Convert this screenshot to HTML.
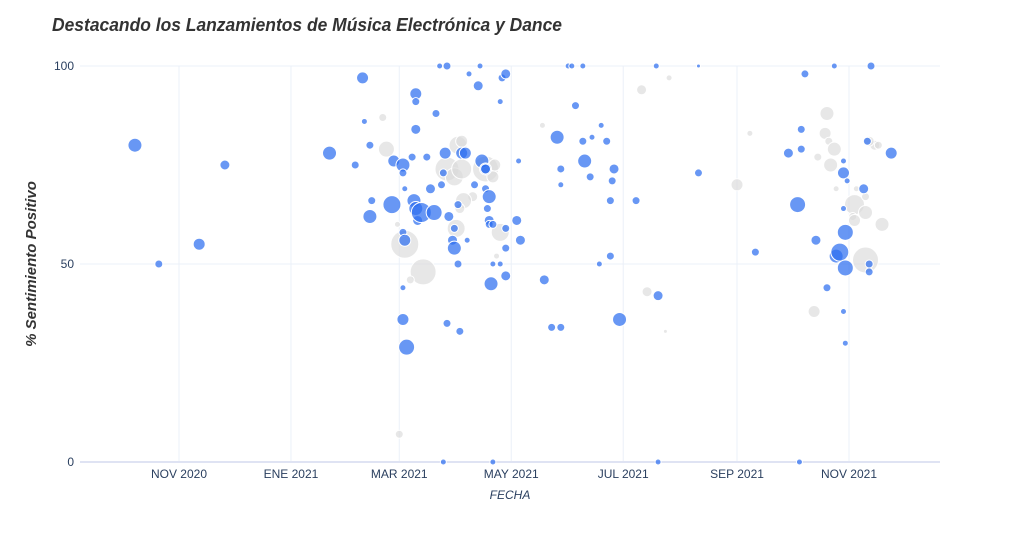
<!DOCTYPE html>
<html><head><meta charset="utf-8"><style>
body{margin:0;background:#fff;width:1024px;height:546px;overflow:hidden}
svg text{font-family:"Liberation Sans",sans-serif}
</style></head><body>
<svg id="chart" width="1024" height="546" xmlns="http://www.w3.org/2000/svg">
<text x="52" y="31" font-size="18" font-weight="bold" font-style="italic" fill="#333" textLength="510" lengthAdjust="spacingAndGlyphs">Destacando los Lanzamientos de Música Electrónica y Dance</text>
<g id="grid"></g>
<g id="marks"></g>
<text x="510" y="499" font-size="12" font-style="italic" fill="#2a3f5f" text-anchor="middle">FECHA</text>
<text transform="translate(36,264) rotate(-90)" font-size="15" font-weight="bold" font-style="italic" fill="#333" text-anchor="middle">% Sentimiento Positivo</text>
</svg>
<script>
// day offsets from 2020-11-01
const xTickDays=[0,61,120,181,242,304,365];
const xTickLabels=["NOV 2020","ENE 2021","MAR 2021","MAY 2021","JUL 2021","SEP 2021","NOV 2021"];
const yTicks=[0,50,100];
// [day, sentiment, size]
const bluePoints=[[-24,80,7],[-11,50,4],[11,55,6],[25,75,5],[82,78,7],[96,75,4],[100,97,6],[101,86,3],[104,62,7],[104,80,4],[105,66,4],[116,65,9],[117,76,6],[122,75,7],[122,73,4],[123,69,3],[122,58,4],[123,56,6],[122,44,3],[122,36,6],[124,29,8],[129,93,6],[129,91,4],[127,77,4],[129,84,5],[128,66,7],[129,64,7],[130,61,5],[132,63,10],[135,77,4],[137,69,5],[139,63,8],[140,88,4],[142,100,3],[146,100,4],[143,70,4],[144,73,4],[145,78,6],[146,35,4],[147,62,5],[149,56,5],[150,59,4],[150,54,7],[152,65,4],[152,50,4],[153,33,4],[154,78,6],[156,78,6],[157,56,3],[158,98,3],[161,70,4],[163,95,5],[164,100,3],[165,76,7],[167,74,6],[167,74,5],[167,69,4],[168,64,4],[169,67,7],[169,61,5],[169,60,4],[171,60,4],[170,45,7],[171,50,3],[175,50,3],[175,91,3],[176,97,4],[178,98,5],[178,54,4],[178,47,5],[178,59,4],[185,76,3],[184,61,5],[186,56,5],[199,46,5],[203,34,4],[206,82,7],[208,74,4],[208,70,3],[208,34,4],[212,100,3],[214,100,3],[216,90,4],[220,100,3],[220,81,4],[221,76,7],[224,72,4],[225,82,3],[229,50,3],[230,85,3],[233,81,4],[235,66,4],[236,71,4],[237,74,5],[235,52,4],[240,36,7],[249,66,4],[260,100,3],[261,42,5],[261,0,3],[283,100,2],[283,73,4],[314,53,4],[332,78,5],[337,65,8],[339,84,4],[339,79,4],[341,98,4],[347,56,5],[353,44,4],[357,100,3],[362,73,6],[362,76,3],[363,58,8],[364,71,3],[362,64,3],[358,52,7],[360,53,9],[363,49,8],[362,38,3],[363,30,3],[373,69,5],[376,50,4],[376,48,4],[377,100,4],[375,81,4],[388,78,6],[338,0,3],[144,0,3],[171,0,3]];
const greyPoints=[[111,87,4],[113,79,8],[120,7,4],[123,55,14],[133,48,13],[126,46,4],[146,74,12],[150,72,9],[154,74,10],[152,80,9],[154,81,6],[167,74,13],[172,75,6],[171,72,6],[160,67,5],[155,66,8],[153,64,5],[151,59,9],[175,58,9],[173,52,3],[119,60,3],[198,85,3],[252,94,5],[255,43,5],[265,33,2],[267,97,3],[304,70,6],[311,83,3],[353,88,7],[352,83,6],[354,81,4],[357,79,7],[355,75,7],[348,77,4],[358,69,3],[368,65,10],[374,63,7],[367,62,4],[368,61,6],[374,67,4],[383,60,7],[374,51,13],[346,38,6],[379,80,5],[376,81,5],[381,80,4],[369,69,3]];

const NS="http://www.w3.org/2000/svg";
const X0=80,X1=940;
const xs=d=>179+d*1.8356;
const ys=v=>462-v*3.96;
const grid=document.getElementById('grid'),marks=document.getElementById('marks');
function mk(tag,attrs,parent){const e=document.createElementNS(NS,tag);for(const k in attrs)e.setAttribute(k,attrs[k]);parent.appendChild(e);return e;}
xTickDays.forEach((d,i)=>{
  const l=mk('line',{x1:xs(d),x2:xs(d),y1:66,y2:462,stroke:'#ebf0f8','stroke-width':1},grid);
  
  
  const t=mk('text',{x:xs(d),y:478,'font-size':12,fill:'#2a3f5f','text-anchor':'middle'},grid);
  t.textContent=xTickLabels[i];
  
  
});
yTicks.forEach(v=>{
  const l=mk('line',{x1:X0,x2:X1,y1:ys(v),y2:ys(v),stroke:v===0?'#dfe3f3':'#ebf0f8','stroke-width':v===0?2:1},grid);
  
  
  const t=mk('text',{x:74,y:ys(v)+4,'font-size':12,fill:'#2a3f5f','text-anchor':'end'},grid);
  t.textContent=String(v);
  
  
});
greyPoints.forEach(p=>{
  const c=mk('circle',{cx:xs(p[0]),cy:ys(p[1]),r:p[2],fill:'#dadada','fill-opacity':0.65,stroke:'#fff','stroke-width':1},marks);
  
  
});
bluePoints.forEach(p=>{
  const c=mk('circle',{cx:xs(p[0]),cy:ys(p[1]),r:p[2],fill:'#2e6ff0','fill-opacity':0.72,stroke:'#fff','stroke-width':1},marks);
  
  
});
</script>
</body></html>
